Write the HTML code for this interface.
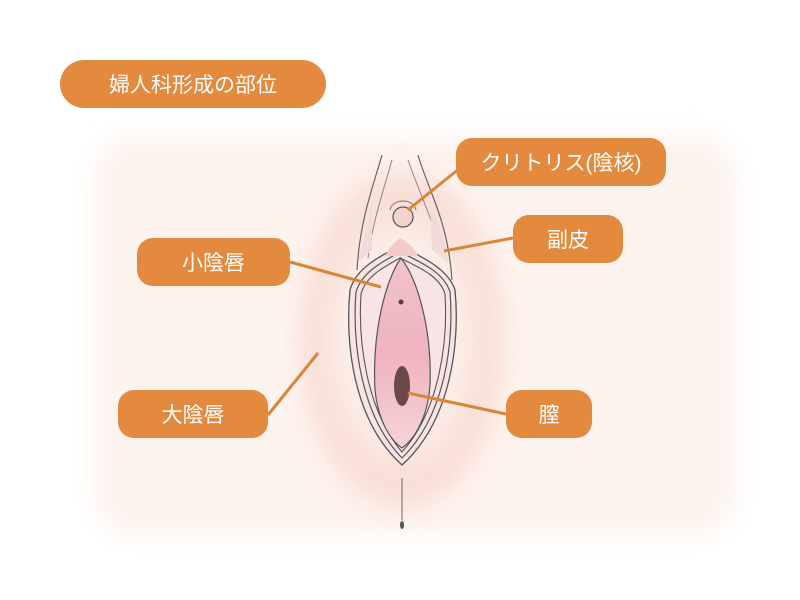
<!DOCTYPE html>
<html><head><meta charset="utf-8"><style>
html,body{margin:0;padding:0;background:#fff;}
body{width:800px;height:600px;position:relative;overflow:hidden;font-family:"Liberation Sans","Noto Sans CJK JP",sans-serif;}
.lb{position:absolute;background:#E38A3E;color:#fff;border-radius:16px;display:flex;align-items:center;justify-content:center;font-size:21px;}
svg{position:absolute;left:0;top:0;}
</style></head><body>
<svg width="800" height="600" viewBox="0 0 800 600">
<defs>
<radialGradient id="glow" cx="0.5" cy="0.5" r="0.5">
<stop offset="0.5" stop-color="#fcefe9"/><stop offset="0.8" stop-color="#f8d9d0"/><stop offset="1" stop-color="#fdf2ec" stop-opacity="0"/>
</radialGradient>
<linearGradient id="inner" x1="0" y1="0" x2="0" y2="1">
<stop offset="0" stop-color="#f2c3cb"/><stop offset="0.5" stop-color="#eeb3bf"/><stop offset="1" stop-color="#f6d4d8"/>
</linearGradient>
<filter id="bl"><feGaussianBlur stdDeviation="12"/></filter>
</defs>
<rect x="95" y="135" width="640" height="400" rx="40" fill="#fdf3ee" filter="url(#bl)"/>
<ellipse cx="402" cy="340" rx="115" ry="190" fill="url(#glow)" filter="url(#bl)"/>
<!-- hood lines -->
<path d="M382 155 C372 190 360 220 357 270" fill="none" stroke="#666" stroke-width="1.2"/>
<path d="M392 160 C382 195 372 225 368 258" fill="none" stroke="#888" stroke-width="1"/>
<path d="M418 155 C428 190 448 220 452 280" fill="none" stroke="#666" stroke-width="1.2"/>
<path d="M408 160 C420 195 436 225 440 255" fill="none" stroke="#888" stroke-width="1"/>
<path d="M372 205 C370 220 362 240 358 262 L372 250 Z" fill="#f2dada"/>
<path d="M430 205 C440 225 446 240 448 262 L432 250 Z" fill="#f2dada"/>
<!-- outer -->
<path d="M400 246 C380 256 356 268 350 290 C345 340 352 420 402 465 C452 420 460 340 455 290 C448 268 420 256 400 246 Z" fill="#f9e4e4" stroke="#555" stroke-width="1.3"/>
<path d="M400 252 C382 262 362 272 356 292 C352 340 360 415 402 458 C446 415 454 340 450 292 C444 272 420 262 400 252 Z" fill="#f9e2e2" stroke="#555" stroke-width="1.2"/>
<path d="M400 258 C384 267 366 276 361 294 C358 340 366 410 402 452 C440 410 448 340 445 294 C440 276 418 267 400 258 Z" fill="#f8e4e4" stroke="#555" stroke-width="1.1"/>
<path d="M401 258 C386 280 372 330 375 390 C378 420 390 440 402 448 C416 438 428 415 430 385 C432 330 418 280 401 258 Z" fill="url(#inner)" stroke="#555" stroke-width="1.2"/>
<path d="M400 238 C394 242 388 250 385 256 L418 256 C414 248 408 242 400 238 Z" fill="#f1cbc8"/>
<circle cx="403" cy="217" r="10" fill="#f4d2ce" stroke="#555" stroke-width="1.2"/>
<path d="M390 210 C392 198 414 198 416 210" fill="none" stroke="#777" stroke-width="1"/>
<circle cx="401" cy="302" r="2.5" fill="#5a3d3d"/>
<ellipse cx="402" cy="386" rx="8" ry="20" fill="#6b4949"/>
<line x1="402" y1="478" x2="402" y2="520" stroke="#666" stroke-width="1"/>
<ellipse cx="402" cy="525" rx="2" ry="4" fill="#555"/>
<g stroke="#D98537" stroke-width="3">
<line x1="460" y1="168" x2="408" y2="210"/>
<line x1="513" y1="238" x2="444" y2="251"/>
<line x1="290" y1="262" x2="381" y2="287"/>
<line x1="268" y1="415" x2="318" y2="353"/>
<line x1="506" y1="414" x2="408" y2="393"/>
</g>
</svg>
<div class="lb" style="left:60px;top:60px;width:266px;height:48px;border-radius:24px;">婦人科形成の部位</div>
<div class="lb" style="left:456px;top:138px;width:210px;height:48px;">クリトリス(陰核)</div>
<div class="lb" style="left:513px;top:215px;width:110px;height:48px;">副皮</div>
<div class="lb" style="left:137px;top:238px;width:153px;height:48px;">小陰唇</div>
<div class="lb" style="left:118px;top:390px;width:150px;height:48px;">大陰唇</div>
<div class="lb" style="left:506px;top:390px;width:86px;height:48px;">膣</div>
</body></html>
